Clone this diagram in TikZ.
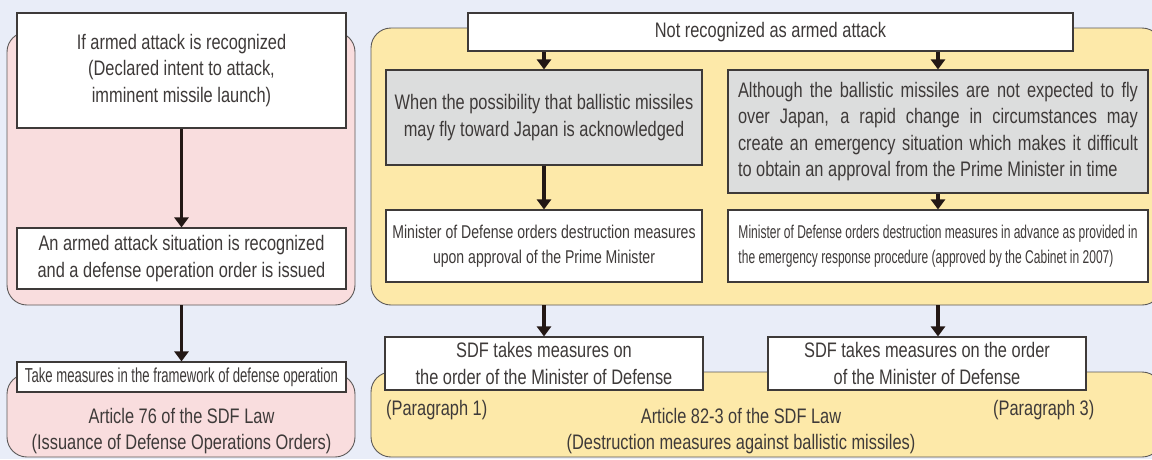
\documentclass[tikz,border=0pt]{standalone}
\usepackage{fontspec}
\setmainfont{Liberation Sans}[FakeStretch=0.78]
\newfontfamily\condfont{Liberation Sans}[FakeStretch=0.76]
\newfontfamily\narrowfont{Liberation Sans}[FakeStretch=0.65]
\usetikzlibrary{arrows.meta}
\definecolor{skybg}{HTML}{E9EDF8}
\definecolor{pinkbg}{HTML}{F9DDDE}
\definecolor{yellowbg}{HTML}{FDE9A9}
\definecolor{boxgrey}{HTML}{DCDDDD}
\definecolor{ink}{HTML}{3E3A39}
\definecolor{arrowink}{HTML}{231815}

\begin{document}
\begin{tikzpicture}[x=1pt,y=-1pt,
  font=\fontsize{21}{26.5}\selectfont,
  box/.style={draw=ink,line width=1.1pt,fill=white,inner sep=0pt,align=center,text=ink},
  greybox/.style={box,fill=boxgrey},
  panel/.style={draw=ink!85,line width=0.9pt,rounded corners=20pt},
  lbl/.style={text=ink,inner sep=0pt,align=center},
  arr/.style={draw=arrowink,line width=3.6pt,-{Triangle[width=14pt,length=10pt]}}]
  \useasboundingbox (0,0) rectangle (1152,459);
  \clip (0,0) rectangle (1152,459);
  \fill[skybg] (0,0) rectangle (1152,459);
  \filldraw[panel,fill=pinkbg] (7,32) rectangle (355,305);
  \filldraw[panel,fill=yellowbg] (371,28) rectangle (1162,305);
  \filldraw[panel,fill=pinkbg] (7,374) rectangle (355,457);
  \filldraw[panel,fill=yellowbg] (371,372) rectangle (1162,457);

  \node[box,minimum width=329pt,minimum height=115pt] (armed) at (181.5,70.5)
    {If armed attack is recognized\\(Declared intent to attack,\\imminent missile launch)};
  \node[box,minimum width=329pt,minimum height=61pt] (situation) at (181.5,258.5)
    {An armed attack situation is recognized\\and a defense operation order is issued};
  \node[box,minimum width=329pt,minimum height=30pt,font=\narrowfont\fontsize{20.2}{24}\selectfont] (framework) at (181.5,377)
    {Take measures in the framework of defense operation};
  \node[lbl] (artsix) at (181.5,431)
    {Article 76 of the SDF Law\\(Issuance of Defense Operations Orders)};

  \node[box,minimum width=605pt,minimum height=38pt] (notarmed) at (770.5,32) {Not recognized as armed attack};
  \node[greybox,minimum width=316pt,minimum height=95pt] (possible) at (544,117.5)
    {When the possibility that ballistic missiles\\may fly toward Japan is acknowledged};
  \node[greybox,minimum width=420pt,minimum height=123pt,text width=400pt,align=justify] (emergency) at (938,131.5)
    {Although the ballistic missiles are not expected to fly\linebreak
     over Japan, a rapid change in circumstances may\linebreak
     create an emergency situation which makes it difficult\linebreak
     to obtain an approval from the Prime Minister in time};
  \node[box,minimum width=316pt,minimum height=72pt,font=\condfont\fontsize{18.5}{25}\selectfont] (approval) at (544,246)
    {Minister of Defense orders destruction measures\\upon approval of the Prime Minister};
  \node[box,minimum width=420pt,minimum height=72pt,align=left,font=\narrowfont\fontsize{18.5}{25}\selectfont] (advance) at (938,246)
    {Minister of Defense orders destruction measures in advance as provided in\\the emergency response procedure (approved by the Cabinet in 2007)};

  \node[box,minimum width=318pt,minimum height=53pt] (sdfone) at (544,363.5)
    {SDF takes measures on\\the order of the Minister of Defense};
  \node[box,minimum width=318pt,minimum height=53pt] (sdfthree) at (927,363.5)
    {SDF takes measures on the order\\of the Minister of Defense};
  \node[lbl,anchor=west] (paraone) at (386,410) {(Paragraph 1)};
  \node[lbl,anchor=west] (parathree) at (993,410) {(Paragraph 3)};
  \node[lbl] (arteight) at (741,431)
    {Article 82-3 of the SDF Law\\(Destruction measures against ballistic missiles)};

  \coordinate (pinkfoot) at (181.5,305);
  \coordinate (yellowfootl) at (544,305);
  \coordinate (yellowfootr) at (938,305);

  \draw[arr] (armed) -- (situation);
  \draw[arr] (pinkfoot) -- (framework);
  \draw[arr] (notarmed.south -| possible.north) -- (possible.north);
  \draw[arr] (notarmed.south -| emergency.north) -- (emergency.north);
  \draw[arr] (possible) -- (approval);
  \draw[arr] (emergency) -- (advance);
  \draw[arr] (yellowfootl) -- (sdfone);
  \draw[arr] (yellowfootr) -- (yellowfootr |- sdfthree.north);
\end{tikzpicture}
\end{document}
